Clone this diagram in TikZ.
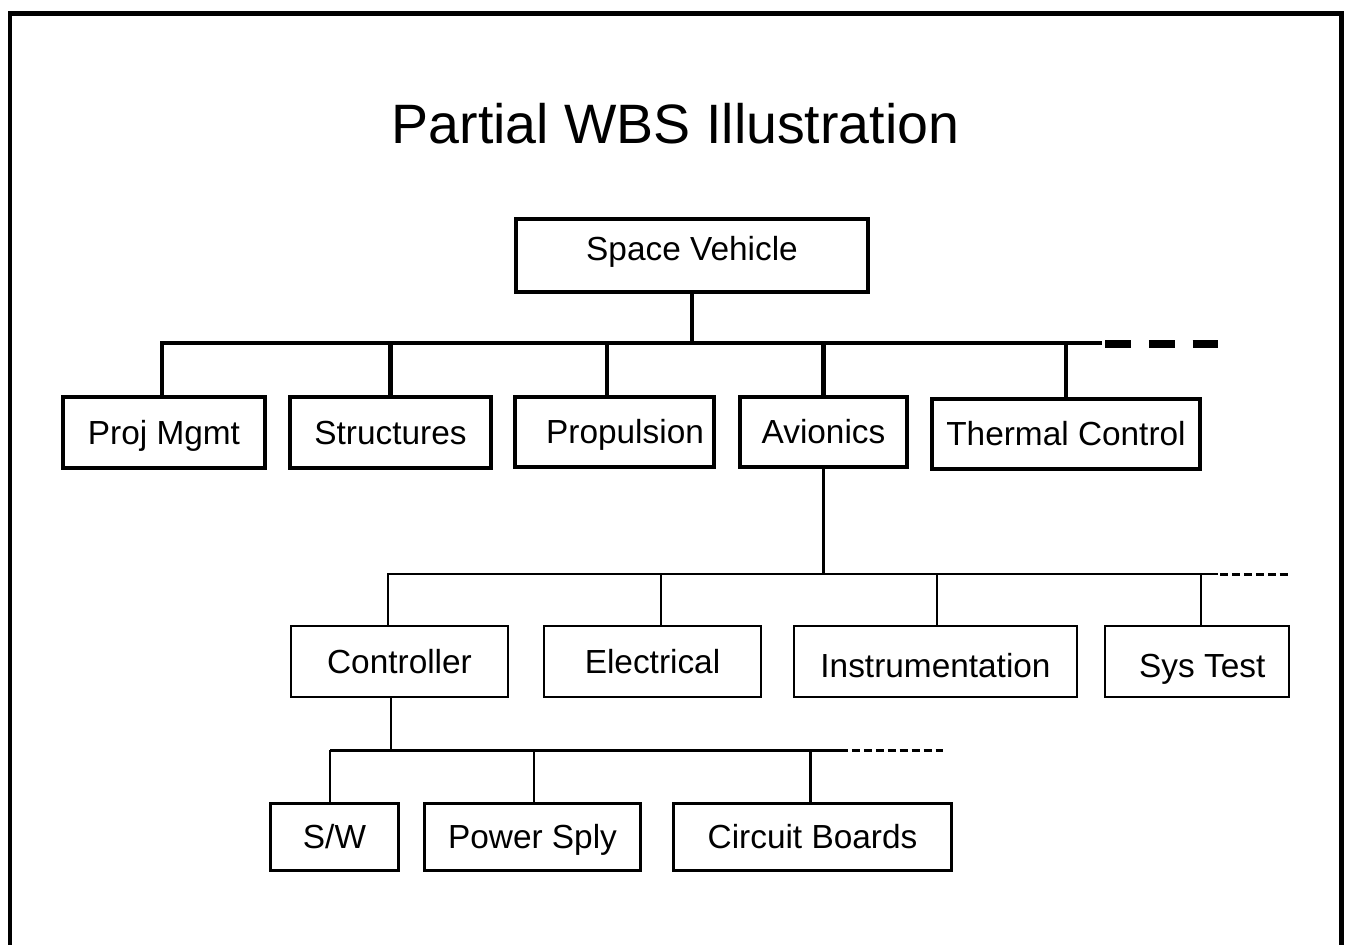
\documentclass[tikz,border=0pt]{standalone}
\usepackage{fontspec}
\setmainfont{Liberation Sans}
\usetikzlibrary{calc}

\begin{document}
\begin{tikzpicture}[x=0.02cm, y=-0.02cm]
    % Define styles
    \tikzstyle{frame} = [line width=2.3pt]
    \tikzstyle{topbox} = [rectangle, draw=black, line width=2.3pt, inner sep=0pt, text height=13.6pt, text depth=0pt, font=\fontsize{19}{22}\selectfont]
    \tikzstyle{midbox} = [topbox, line width=1.4pt]
    \tikzstyle{lowbox} = [topbox, line width=1.7pt]
    \tikzstyle{link} = [line width=2.3pt]
    \tikzstyle{thinlink} = [line width=1.2pt]
    \tikzstyle{lowlink} = [line width=1.7pt]
    \tikzstyle{more} = [line width=4pt, dash pattern=on 14.7pt off 10.2pt]
    \tikzstyle{moresmall} = [line width=1.7pt, dash pattern=on 4.5pt off 2.3pt]

    \useasboundingbox (0,0) rectangle (1346,944);

    % Frame, open at the bottom
    \draw[frame] (10,950) -- (10,13.5) -- (1341.5,13.5) -- (1341.5,950);

    % Title
    \node[font=\fontsize{31.6}{38}\selectfont, anchor=base] (title) at (675.5,143) {Partial WBS Illustration};

    % Level 1
    \node[topbox, text depth=8pt, minimum width=7.04cm, minimum height=1.46cm] (sv) at (692,255.5) {Space Vehicle};

    % Level 2
    \node[topbox, minimum width=4.04cm, minimum height=1.42cm] (pm) at (164,432.5) {Proj Mgmt};
    \node[topbox, minimum width=4.02cm, minimum height=1.42cm] (st) at (390.5,432.5) {Structures};
    \node[topbox, minimum width=3.98cm, minimum height=1.40cm] (pr) at (614.5,432) {\hspace{12pt}Propulsion};
    \node[topbox, minimum width=3.34cm, minimum height=1.40cm] (av) at (823.5,432) {Avionics};
    \node[topbox, minimum width=5.36cm, minimum height=1.40cm] (tc) at (1066,434) {Thermal Control};

    % Level 3
    \node[midbox, minimum width=4.34cm, minimum height=1.42cm] (ct) at (399.5,661.5) {Controller};
    \node[midbox, minimum width=4.34cm, minimum height=1.42cm] (el) at (652.5,661.5) {Electrical\hspace{14pt}};
    \node[midbox, text height=18pt, minimum width=5.66cm, minimum height=1.42cm] (ins) at (935.5,661.5) {Instrumentation};
    \node[midbox, text height=18pt, minimum width=3.68cm, minimum height=1.42cm] (syt) at (1197,661.5) {\hspace{6pt}Sys Test};

    % Level 4
    \node[lowbox, minimum width=2.58cm, minimum height=1.34cm] (sw) at (334.5,836.5) {S/W};
    \node[lowbox, minimum width=4.34cm, minimum height=1.34cm] (ps) at (532.5,836.5) {Power Sply};
    \node[lowbox, minimum width=5.58cm, minimum height=1.34cm] (cb) at (812.5,836.5) {Circuit Boards};

    % Bus lines
    \coordinate (b2l) at (160,343);
    \coordinate (b2r) at (1102,343);
    \coordinate (b2a) at (1105,344);
    \coordinate (b2b) at (1218,344);
    \coordinate (b3l) at (387,574);
    \coordinate (b3r) at (1218,574);
    \coordinate (b3a) at (1220,574);
    \coordinate (b3b) at (1288,574);
    \coordinate (b4l) at (330,750);
    \coordinate (b4r) at (840,750);
    \coordinate (b4b) at (943,750);

    \draw[link] (b2l) -- (b2r);
    \draw[more] (b2a) -- (b2b);
    \draw[thinlink] (b3l) -- (b3r);
    \draw[moresmall] (b3a) -- (b3b);
    \draw[lowlink] (b4l) -- (b4r);
    \draw[moresmall] (b4r) -- (b4b);

    % Level 1 to level 2
    \draw[link] (sv) -- (sv |- b2l);
    \coordinate (b2pm) at (162,343);
    \coordinate (b2pr) at (607,343);
    \draw[link] (b2pm) -- (b2pm |- pm.north);
    \draw[link] (b2pr) -- (b2pr |- pr.north);
    \foreach \n in {st,av,tc}
        \draw[link] (\n) -- (\n |- b2l);

    % Avionics to level 3
    \draw[thinlink] (av) -- (av |- b3l);
    \coordinate (b3ct) at (388,574);
    \coordinate (b3el) at (661,574);
    \coordinate (b3ins) at (937,574);
    \coordinate (b3syt) at (1201,574);
    \foreach \n in {ct,el,ins,syt}
        \draw[thinlink] (b3\n) -- (b3\n |- \n.north);

    % Controller to level 4
    \coordinate (b4ct) at (391,750);
    \draw[thinlink] (b4ct |- ct.south) -- (b4ct);
    \coordinate (b4sw) at (330,750);
    \coordinate (b4ps) at (534,750);
    \coordinate (b4cb) at (810,750);
    \foreach \n in {sw,ps,cb}
        \draw[lowlink] (b4\n) -- (b4\n |- \n.north);

\end{tikzpicture}
\end{document}
